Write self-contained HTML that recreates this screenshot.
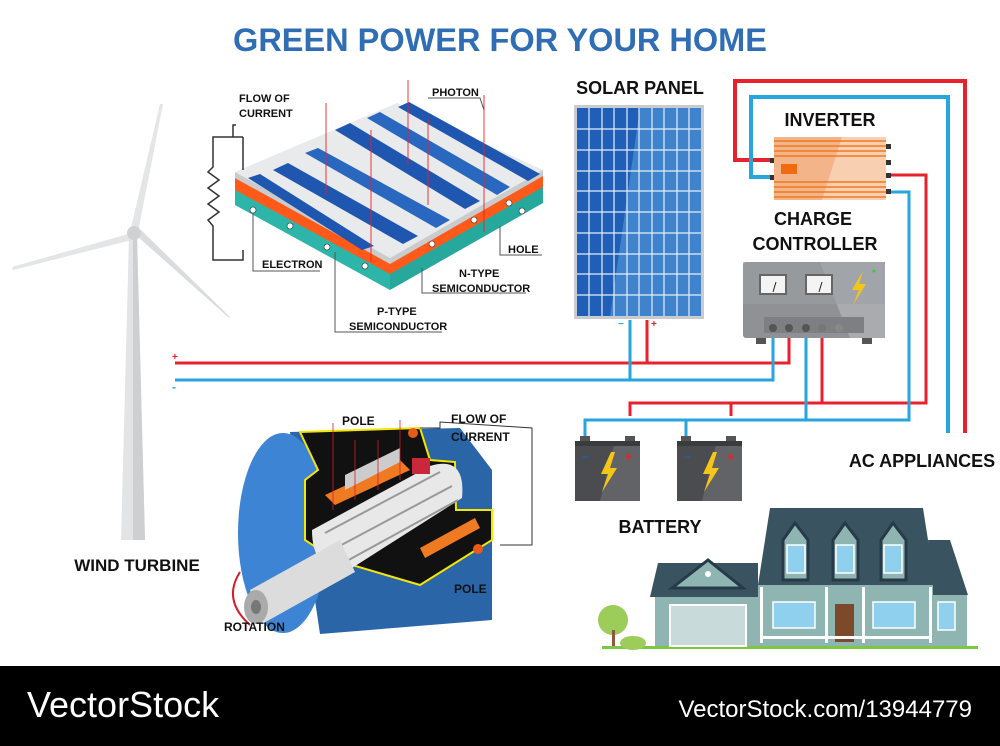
<!DOCTYPE html>
<html><head><meta charset="utf-8"><style>
html,body{margin:0;padding:0;background:#fff}
svg{display:block}
text{font-family:"Liberation Sans",sans-serif;font-weight:bold}
</style></head><body>
<svg width="1000" height="746" viewBox="0 0 1000 746" xmlns="http://www.w3.org/2000/svg">
<rect width="1000" height="746" fill="#fff"/>
<text x="500" y="51" text-anchor="middle" font-size="32.5" fill="#2f6db5">GREEN POWER FOR YOUR HOME</text>

<g fill="none" stroke-width="3">
<polyline points="772,160 735,160 735,81 965,81 965,433" stroke="#e8222c" stroke-width="4"/>
<polyline points="772,177 751,177 751,97 948,97 948,433" stroke="#27a6dd" stroke-width="4"/>
<polyline points="886,175 926,175 926,403 630,403 630,416" stroke="#e8222c"/>
<polyline points="731,416 731,403" stroke="#e8222c"/>
<polyline points="886,192 909,192 909,420 585,420 585,440" stroke="#27a6dd"/>
<polyline points="686,440 686,420" stroke="#27a6dd"/>
<polyline points="822,330 822,403" stroke="#e8222c"/>
<polyline points="806,330 806,420" stroke="#27a6dd"/>
<polyline points="175,363 789,363 789,330" stroke="#e8222c"/>
<polyline points="175,380 773,380 773,330" stroke="#27a6dd"/>
<polyline points="647,320 647,363" stroke="#e8222c"/>
<polyline points="630,320 630,380" stroke="#27a6dd"/>
</g>
<text x="172" y="360" font-size="10" fill="#e8222c">+</text>
<text x="172" y="391" font-size="12" fill="#27a6dd">-</text>
<text x="618" y="327" font-size="10" fill="#27a6dd">−</text>
<text x="651" y="327" font-size="10" fill="#e8222c">+</text>

<text x="640" y="94" text-anchor="middle" font-size="18" fill="#111">SOLAR PANEL</text>
<rect x="574" y="105" width="130" height="214" fill="#c8ccd0"/>
<rect x="577" y="108" width="124" height="208" fill="#1f5fb8"/>
<polygon points="640,108 701,108 701,316 610,316" fill="#3f83cc"/>
<g stroke="#e6eef8" stroke-width="1.2">
<line x1="589" y1="108" x2="589" y2="316"/><line x1="602" y1="108" x2="602" y2="316"/><line x1="614" y1="108" x2="614" y2="316"/><line x1="627" y1="108" x2="627" y2="316"/><line x1="639" y1="108" x2="639" y2="316"/><line x1="652" y1="108" x2="652" y2="316"/><line x1="664" y1="108" x2="664" y2="316"/><line x1="677" y1="108" x2="677" y2="316"/><line x1="689" y1="108" x2="689" y2="316"/>
<line x1="577" y1="129" x2="701" y2="129"/><line x1="577" y1="150" x2="701" y2="150"/><line x1="577" y1="171" x2="701" y2="171"/><line x1="577" y1="191" x2="701" y2="191"/><line x1="577" y1="212" x2="701" y2="212"/><line x1="577" y1="233" x2="701" y2="233"/><line x1="577" y1="254" x2="701" y2="254"/><line x1="577" y1="274" x2="701" y2="274"/><line x1="577" y1="295" x2="701" y2="295"/>
</g>

<text x="830" y="126" text-anchor="middle" font-size="18" fill="#111">INVERTER</text>
<rect x="774" y="137" width="112" height="63" fill="#f3b48a"/>
<polygon points="842,137 886,137 886,200 822,200" fill="#f8cfb0"/>
<g stroke="#f07a22" stroke-width="1.5">
<line x1="774" y1="141" x2="886" y2="141"/><line x1="774" y1="146" x2="886" y2="146"/><line x1="774" y1="151" x2="886" y2="151"/><line x1="774" y1="156" x2="886" y2="156"/>
<line x1="774" y1="182" x2="886" y2="182"/><line x1="774" y1="187" x2="886" y2="187"/><line x1="774" y1="192" x2="886" y2="192"/><line x1="774" y1="197" x2="886" y2="197"/>
</g>
<rect x="781" y="164" width="16" height="10" fill="#f06a10"/>
<g fill="#333"><rect x="770" y="158" width="4" height="5"/><rect x="770" y="175" width="4" height="5"/><rect x="886" y="144" width="5" height="5"/><rect x="886" y="160" width="5" height="5"/><rect x="886" y="173" width="5" height="5"/><rect x="886" y="189" width="5" height="5"/></g>

<text x="813" y="225" text-anchor="middle" font-size="18" fill="#111">CHARGE</text>
<text x="815" y="250" text-anchor="middle" font-size="18" fill="#111">CONTROLLER</text>
<rect x="743" y="262" width="142" height="76" rx="3" fill="#8f9194"/>
<polygon points="820,262 885,262 885,338 850,338" fill="#a9abae"/>
<rect x="743" y="262" width="142" height="42" fill="#9da0a3" opacity="0.6"/>
<rect x="759" y="274" width="28" height="21" fill="#666"/><rect x="761" y="276" width="24" height="17" fill="#f4f4f4"/>
<rect x="805" y="274" width="28" height="21" fill="#666"/><rect x="807" y="276" width="24" height="17" fill="#f4f4f4"/>
<line x1="773" y1="292" x2="776" y2="282" stroke="#222"/><line x1="819" y1="292" x2="822" y2="282" stroke="#222"/>
<polygon points="863,271 852,290 859,290 853,305 866,284 859,284" fill="#f5c518"/>
<circle cx="874" cy="271" r="1.5" fill="#3c3"/>
<rect x="764" y="317" width="100" height="16" fill="#7d7f82"/>
<g fill="#555"><circle cx="773" cy="328" r="4"/><circle cx="789" cy="328" r="4"/><circle cx="806" cy="328" r="4"/><circle cx="822" cy="328" r="4" fill="#777"/><circle cx="839" cy="328" r="4" fill="#888"/></g>
<rect x="756" y="338" width="10" height="6" fill="#555"/><rect x="862" y="338" width="10" height="6" fill="#555"/>

<g>
<rect x="580" y="436" width="10" height="6" fill="#555"/><rect x="625" y="436" width="10" height="6" fill="#555"/>
<rect x="575" y="441" width="65" height="60" fill="#4a4c4f"/><polygon points="615,441 640,441 640,501 600,501" fill="#616366"/>
<rect x="575" y="441" width="65" height="5" fill="#3a3b3d"/>
<text x="582" y="461" font-size="12" fill="#1e5fb8">−</text><text x="625" y="461" font-size="12" fill="#e8222c">+</text>
<polygon points="611,452 601,474 608,474 602,492 617,468 610,468 615,452" fill="#f5c518"/>
<rect x="681" y="436" width="10" height="6" fill="#555"/><rect x="726" y="436" width="10" height="6" fill="#555"/>
<rect x="677" y="441" width="65" height="60" fill="#4a4c4f"/><polygon points="717,441 742,441 742,501 702,501" fill="#616366"/>
<rect x="677" y="441" width="65" height="5" fill="#3a3b3d"/>
<text x="684" y="461" font-size="12" fill="#1e5fb8">−</text><text x="727" y="461" font-size="12" fill="#e8222c">+</text>
<polygon points="713,452 703,474 710,474 704,492 719,468 712,468 717,452" fill="#f5c518"/>
</g>
<text x="660" y="533" text-anchor="middle" font-size="18" fill="#111">BATTERY</text>
<text x="922" y="467" text-anchor="middle" font-size="18" fill="#111">AC APPLIANCES</text>

<!-- wind turbine -->
<polygon points="129,236 137,236 145,540 121,540" fill="#e2e4e5"/>
<polygon points="133,236 137,236 145,540 133,540" fill="#cdcfd1"/>
<polygon points="131,228 160,104 163,104 138,232" fill="#e4e5e6"/>
<polygon points="128,234 12,267 13,270 132,240" fill="#e4e5e6"/>
<polygon points="137,236 228,317 231,318 141,230" fill="#dadcdd"/>
<circle cx="134" cy="233" r="7" fill="#cfd1d3"/>
<text x="137" y="571" text-anchor="middle" font-size="17" fill="#111">WIND TURBINE</text>

<!-- solar cell -->
<g>
<polygon points="235,185 390,270 390,290 235,205" fill="#2cb5a8"/>
<polygon points="390,270 543,182 543,203 390,290" fill="#26a89c"/>
<polygon points="235,178 390,262 390,274 235,190" fill="#ff5a1a"/>
<polygon points="390,262 543,175 543,187 390,274" fill="#ff5a1a"/>
<polygon points="235,172 397,103 543,170 390,258" fill="#e9eaeb"/>
<polygon points="235,172 390,258 390,264 235,178" fill="#c9cbcd"/>
<polygon points="390,258 543,170 543,176 390,264" fill="#c9cbcd"/>
<g fill="#1e56b0">
<polygon points="248,178 362,250 374,246 260,174" />
<polygon points="273,170 288,163 418,236 403,244"/>
<polygon points="335,130 350,123 480,201 465,209"/>
<polygon points="398,107 409,102 540,174 528,181"/>
<polygon points="305,153 318,148 450,220 436,228" fill="#2a68c0"/>
<polygon points="367,118 380,112 510,187 497,195" fill="#2a68c0"/>
</g>
<g stroke="#e8222c" stroke-width="0.9">
<line x1="326" y1="103" x2="326" y2="195"/><line x1="408" y1="80" x2="408" y2="165"/><line x1="428" y1="118" x2="428" y2="205"/><line x1="371" y1="130" x2="371" y2="262"/><line x1="484" y1="95" x2="484" y2="232"/>
</g>
<g fill="#fff" stroke="#333" stroke-width="0.6"><circle cx="253" cy="210" r="3"/><circle cx="290" cy="226" r="3"/><circle cx="327" cy="247" r="3"/><circle cx="365" cy="266" r="3"/><circle cx="432" cy="244" r="3"/><circle cx="474" cy="220" r="3"/><circle cx="522" cy="211" r="3"/><circle cx="509" cy="203" r="3"/></g>
</g>
<g stroke="#333" fill="none" stroke-width="1.5">
<polyline points="236,125 233,125 233,137 213,137 213,167 208,172 219,180 208,188 219,196 208,204 219,212 208,220 213,226 213,260 243,260 243,250"/>
<line x1="243" y1="137" x2="243" y2="170"/><line x1="233" y1="137" x2="243" y2="137"/>
</g>
<g stroke="#555" fill="none" stroke-width="1">
<polyline points="253,213 253,271 320,271"/>
<polyline points="335,252 335,332 442,332"/>
<polyline points="422,268 422,293 526,293"/>
<polyline points="500,226 500,255 542,255"/>
<polyline points="428,98 480,98 484,110"/>
</g>
<g font-size="11" fill="#111">
<text x="239" y="102">FLOW OF</text><text x="239" y="117">CURRENT</text>
<text x="432" y="96">PHOTON</text>
<text x="508" y="253">HOLE</text>
<text x="262" y="268">ELECTRON</text>
<text x="459" y="277">N-TYPE</text><text x="432" y="292">SEMICONDUCTOR</text>
<text x="377" y="315">P-TYPE</text><text x="349" y="330">SEMICONDUCTOR</text>
</g>

<!-- generator -->
<g>
<path d="M290,432 L460,428 L492,470 L492,620 L320,634 Z" fill="#2a65a8"/>
<ellipse cx="283" cy="533" rx="45" ry="100" fill="#3d85d4"/>
<path d="M300,432 L420,428 L430,460 L455,462 L456,510 L492,510 L492,540 L420,585 L335,560 L305,540 L305,480 L318,470 Z" fill="#111" stroke="#f5e600" stroke-width="2"/>
<polygon points="325,495 400,460 410,470 335,505" fill="#f07a22"/>
<polygon points="420,548 475,518 480,528 425,558" fill="#f07a22"/>
<polygon points="345,475 400,448 400,462 345,490" fill="#ccc"/>
<path d="M312,530 L430,466 Q466,455 462,498 L352,568 Q312,575 312,530 Z" fill="#e8e8e8"/>
<g stroke="#999" stroke-width="2"><line x1="325" y1="533" x2="440" y2="472"/><line x1="332" y1="550" x2="452" y2="486"/><line x1="345" y1="562" x2="458" y2="500"/></g>
<polygon points="250,590 340,540 355,572 262,624" fill="#dcdcdc"/>
<ellipse cx="256" cy="607" rx="12" ry="17" fill="#aaa"/><ellipse cx="256" cy="607" rx="5" ry="7" fill="#777"/>
<rect x="412" y="458" width="18" height="16" fill="#c8283a"/>
<circle cx="413" cy="433" r="5" fill="#e85a1a"/><circle cx="478" cy="549" r="5" fill="#e85a1a"/>
<path d="M240,572 Q222,600 250,625" stroke="#d21f2b" fill="none" stroke-width="2"/>
<g stroke="#d21f2b" stroke-width="0.8"><line x1="333" y1="423" x2="333" y2="510"/><line x1="355" y1="440" x2="355" y2="500"/><line x1="378" y1="440" x2="378" y2="490"/><line x1="400" y1="420" x2="400" y2="480"/></g>
</g>
<g stroke="#333" fill="none" stroke-width="1">
<polyline points="420,428 440,428 440,422 532,428 532,545 500,545"/>
</g>
<g font-size="12" fill="#111">
<text x="342" y="425">POLE</text>
<text x="451" y="423">FLOW OF</text><text x="451" y="441">CURRENT</text>
<text x="454" y="593">POLE</text>
<text x="224" y="631">ROTATION</text>
</g>

<!-- house -->
<g>
<rect x="602" y="646" width="376" height="3" fill="#7cc843"/>
<circle cx="613" cy="620" r="15" fill="#9ccc5a"/><rect x="612" y="630" width="3" height="16" fill="#8a5a3a"/>
<ellipse cx="633" cy="643" rx="13" ry="7" fill="#9ccc5a"/>
<rect x="655" y="597" width="104" height="49" fill="#8fb5b3"/>
<polygon points="658,563 758,563 758,597 650,597" fill="#3a5361"/>
<polygon points="672,588 708,560 743,588" fill="#8fb5b3" stroke="#263b47" stroke-width="3"/>
<circle cx="708" cy="574" r="3" fill="#fff"/>
<rect x="670" y="605" width="76" height="41" fill="#c9dadb" stroke="#fff" stroke-width="2"/>
<rect x="933" y="595" width="34" height="51" fill="#8fb5b3"/>
<polygon points="928,540 950,540 968,595 933,595" fill="#3a5361"/>
<rect x="758" y="585" width="175" height="61" fill="#8fb5b3"/>
<polygon points="770,508 923,508 935,585 758,585" fill="#3a5361"/>
<g fill="#8fb5b3" stroke="#263b47" stroke-width="3">
<polygon points="783,580 783,540 795,523 808,540 808,580"/>
<polygon points="833,580 833,540 845,523 858,540 858,580"/>
<polygon points="881,580 881,540 893,523 906,540 906,580"/>
</g>
<g fill="#8fd0ef" stroke="#fff" stroke-width="1.5">
<rect x="787" y="545" width="18" height="28"/><rect x="836" y="545" width="18" height="28"/><rect x="884" y="545" width="18" height="28"/>
<rect x="773" y="602" width="42" height="26"/><rect x="873" y="602" width="42" height="26"/><rect x="938" y="602" width="17" height="28"/>
</g>
<rect x="835" y="604" width="19" height="38" fill="#7a4a2a"/>
<g fill="#fff"><rect x="760" y="587" width="3" height="56"/><rect x="825" y="587" width="3" height="56"/><rect x="862" y="587" width="3" height="56"/><rect x="929" y="587" width="3" height="56"/><rect x="760" y="636" width="172" height="3"/></g>
</g>

<rect x="0" y="666" width="1000" height="80" fill="#000"/>
<text x="27" y="717" font-size="36" fill="#fff" style="font-weight:normal">VectorStock</text>
<text x="972" y="717" text-anchor="end" font-size="24" fill="#fff" style="font-weight:normal">VectorStock.com/13944779</text>
</svg>
</body></html>
